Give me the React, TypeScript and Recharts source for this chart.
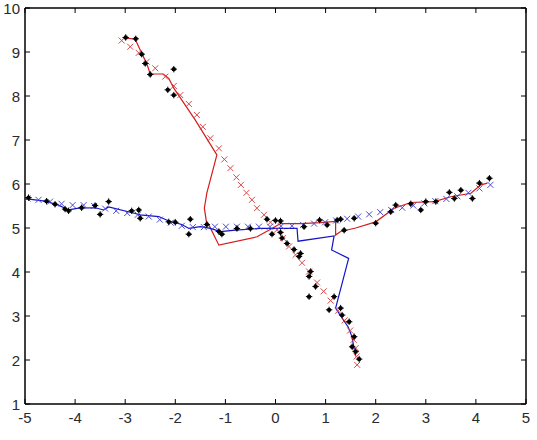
import { ScatterChart, Scatter, XAxis, YAxis } from "recharts";

const X_TICKS = [-5, -4, -3, -2, -1, 0, 1, 2, 3, 4, 5];
const Y_TICKS = [1, 2, 3, 4, 5, 6, 7, 8, 9, 10];

// black measurement points
const measurements = [
  { x: -2.99, y: 9.33 }, { x: -2.79, y: 9.3 }, { x: -2.67, y: 8.95 }, { x: -2.6, y: 8.74 },
  { x: -2.5, y: 8.49 }, { x: -2.03, y: 8.61 }, { x: -2.15, y: 8.14 }, { x: -2.03, y: 8.02 },
  { x: -4.93, y: 5.69 }, { x: -4.57, y: 5.61 }, { x: -4.4, y: 5.54 }, { x: -4.2, y: 5.43 },
  { x: -4.13, y: 5.39 }, { x: -3.87, y: 5.46 }, { x: -3.6, y: 5.51 }, { x: -3.5, y: 5.31 },
  { x: -3.33, y: 5.6 }, { x: -2.87, y: 5.39 }, { x: -2.73, y: 5.41 }, { x: -2.7, y: 5.22 },
  { x: -2.13, y: 5.14 }, { x: -2.0, y: 5.13 }, { x: -1.7, y: 5.2 }, { x: -1.73, y: 4.86 },
  { x: -1.37, y: 5.08 }, { x: -1.13, y: 4.92 }, { x: -1.07, y: 4.86 }, { x: -0.77, y: 4.99 },
  { x: -0.5, y: 4.99 }, { x: -0.17, y: 5.2 }, { x: 0.0, y: 5.17 }, { x: 0.1, y: 5.16 },
  { x: -0.07, y: 4.86 }, { x: 0.1, y: 4.9 }, { x: 0.13, y: 4.77 }, { x: 0.23, y: 4.65 },
  { x: 0.57, y: 5.03 }, { x: 0.88, y: 5.18 }, { x: 1.03, y: 5.07 }, { x: 1.23, y: 5.18 },
  { x: 1.37, y: 4.95 }, { x: 1.3, y: 5.2 }, { x: 1.57, y: 5.22 }, { x: 2.0, y: 5.11 },
  { x: 2.3, y: 5.37 }, { x: 2.4, y: 5.52 }, { x: 2.7, y: 5.55 }, { x: 2.9, y: 5.41 },
  { x: 3.0, y: 5.6 }, { x: 3.2, y: 5.6 }, { x: 3.47, y: 5.81 }, { x: 3.57, y: 5.67 },
  { x: 3.7, y: 5.86 }, { x: 3.93, y: 5.67 }, { x: 4.07, y: 6.02 }, { x: 4.27, y: 6.13 },
  { x: 0.37, y: 4.51 }, { x: 0.5, y: 4.42 }, { x: 0.47, y: 4.35 }, { x: 0.7, y: 4.01 },
  { x: 0.67, y: 3.9 }, { x: 0.8, y: 3.67 }, { x: 0.67, y: 3.44 }, { x: 1.17, y: 3.44 },
  { x: 1.07, y: 3.14 }, { x: 1.3, y: 3.18 }, { x: 1.33, y: 3.02 }, { x: 1.47, y: 2.87 },
  { x: 1.57, y: 2.53 }, { x: 1.53, y: 2.3 }, { x: 1.6, y: 2.19 }, { x: 1.67, y: 2.02 },
];

// red x markers (target 1 path)
const truthRed = [
  { x: -3.07, y: 9.26 }, { x: -2.9, y: 9.12 }, { x: -2.73, y: 8.98 }, { x: -2.57, y: 8.78 },
  { x: -2.4, y: 8.63 }, { x: -2.2, y: 8.44 }, { x: -2.03, y: 8.23 }, { x: -1.9, y: 8.02 },
  { x: -1.73, y: 7.82 }, { x: -1.57, y: 7.57 }, { x: -1.45, y: 7.3 }, { x: -1.3, y: 7.04 },
  { x: -1.13, y: 6.81 }, { x: -1.02, y: 6.56 }, { x: -0.9, y: 6.36 }, { x: -0.78, y: 6.15 },
  { x: -0.69, y: 5.98 }, { x: -0.58, y: 5.8 }, { x: -0.47, y: 5.64 }, { x: -0.37, y: 5.45 },
  { x: -0.23, y: 5.3 }, { x: -0.1, y: 5.13 }, { x: 0.03, y: 4.96 }, { x: 0.15, y: 4.77 },
  { x: 0.27, y: 4.58 }, { x: 0.4, y: 4.39 }, { x: 0.53, y: 4.21 }, { x: 0.67, y: 4.01 },
  { x: 0.83, y: 3.76 }, { x: 0.96, y: 3.56 }, { x: 1.1, y: 3.35 }, { x: 1.25, y: 3.12 },
  { x: 1.38, y: 2.9 }, { x: 1.49, y: 2.67 }, { x: 1.56, y: 2.46 }, { x: 1.6, y: 2.27 },
  { x: 1.62, y: 2.08 }, { x: 1.63, y: 1.89 },
];

// blue x markers (target 2 path)
const truthBlue = [
  { x: -4.95, y: 5.67 }, { x: -4.73, y: 5.64 }, { x: -4.5, y: 5.6 }, { x: -4.27, y: 5.55 },
  { x: -4.05, y: 5.52 }, { x: -3.83, y: 5.52 }, { x: -3.62, y: 5.5 }, { x: -3.4, y: 5.44 },
  { x: -3.18, y: 5.39 }, { x: -2.96, y: 5.34 }, { x: -2.75, y: 5.3 }, { x: -2.53, y: 5.26 },
  { x: -2.31, y: 5.19 }, { x: -2.09, y: 5.12 }, { x: -1.87, y: 5.05 }, { x: -1.65, y: 5.02 },
  { x: -1.43, y: 5.02 }, { x: -1.21, y: 5.03 }, { x: -0.99, y: 5.03 }, { x: -0.77, y: 5.03 },
  { x: -0.55, y: 5.03 }, { x: -0.33, y: 5.03 }, { x: -0.11, y: 5.03 }, { x: 0.11, y: 5.04 },
  { x: 0.33, y: 5.05 }, { x: 0.55, y: 5.07 }, { x: 0.77, y: 5.1 }, { x: 0.99, y: 5.13 },
  { x: 1.21, y: 5.17 }, { x: 1.43, y: 5.21 }, { x: 1.65, y: 5.26 }, { x: 1.87, y: 5.31 },
  { x: 2.09, y: 5.36 }, { x: 2.31, y: 5.41 }, { x: 2.53, y: 5.46 }, { x: 2.75, y: 5.51 },
  { x: 2.97, y: 5.56 }, { x: 3.19, y: 5.61 }, { x: 3.41, y: 5.66 }, { x: 3.63, y: 5.72 },
  { x: 3.85, y: 5.8 }, { x: 4.07, y: 5.9 }, { x: 4.29, y: 5.98 },
];

// red estimate line
const estRed = [
  { x: -3.0, y: 9.32 }, { x: -2.8, y: 9.29 }, { x: -2.67, y: 8.97 }, { x: -2.57, y: 8.74 },
  { x: -2.5, y: 8.5 }, { x: -2.24, y: 8.5 }, { x: -2.13, y: 8.4 }, { x: -2.03, y: 8.18 },
  { x: -1.6, y: 7.45 }, { x: -1.17, y: 6.66 }, { x: -1.3, y: 6.1 }, { x: -1.37, y: 5.8 },
  { x: -1.42, y: 5.45 }, { x: -1.38, y: 5.15 }, { x: -1.33, y: 5.07 }, { x: -1.13, y: 4.61 },
  { x: -0.37, y: 4.8 }, { x: -0.07, y: 4.99 }, { x: 0.1, y: 5.1 }, { x: 0.5, y: 5.1 },
  { x: 0.9, y: 5.12 }, { x: 1.2, y: 5.15 }, { x: 1.2, y: 4.84 }, { x: 1.3, y: 4.92 },
  { x: 1.6, y: 5.0 }, { x: 2.0, y: 5.14 }, { x: 2.37, y: 5.45 }, { x: 2.7, y: 5.58 },
  { x: 3.17, y: 5.6 }, { x: 3.5, y: 5.71 }, { x: 3.9, y: 5.79 }, { x: 4.1, y: 5.98 },
  { x: 4.23, y: 6.02 },
];

// blue estimate line
const estBlue = [
  { x: -5.0, y: 5.67 }, { x: -4.6, y: 5.61 }, { x: -4.33, y: 5.52 }, { x: -4.13, y: 5.41 },
  { x: -3.93, y: 5.45 }, { x: -3.6, y: 5.46 }, { x: -3.43, y: 5.41 }, { x: -3.33, y: 5.48 },
  { x: -2.8, y: 5.33 }, { x: -2.7, y: 5.3 }, { x: -2.33, y: 5.26 }, { x: -2.13, y: 5.16 },
  { x: -1.87, y: 5.08 }, { x: -1.73, y: 4.99 }, { x: -1.5, y: 5.03 }, { x: -1.3, y: 4.99 },
  { x: -1.1, y: 4.92 }, { x: -0.8, y: 4.95 }, { x: -0.3, y: 4.99 }, { x: 0.1, y: 4.99 },
  { x: 0.43, y: 4.99 }, { x: 0.45, y: 4.7 }, { x: 1.17, y: 4.82 }, { x: 1.12, y: 4.5 },
  { x: 1.46, y: 4.31 }, { x: 1.2, y: 3.18 }, { x: 1.3, y: 3.0 }, { x: 1.45, y: 2.75 },
  { x: 1.52, y: 2.55 }, { x: 1.57, y: 2.27 }, { x: 1.6, y: 2.08 },
];

const FONT = '"Liberation Sans", Arial, sans-serif';
const TICK_LEN = 5;
const AXIS = { stroke: "#000", strokeWidth: 1.5 };

function BottomTick({ x, y, payload }: any) {
  return (
    <g>
      <line x1={x} y1={y} x2={x} y2={y - TICK_LEN} stroke="#000" />
      <text x={x} y={y + 13} textAnchor="middle" dominantBaseline="central" fontSize={15} fontFamily={FONT} fill="#2a2a2a">
        {payload.value}
      </text>
    </g>
  );
}

function TopTick({ x, y }: any) {
  return <line x1={x} y1={y} x2={x} y2={y + TICK_LEN} stroke="#000" />;
}

function LeftTick({ x, y, payload }: any) {
  return (
    <g>
      <line x1={x} y1={y} x2={x + TICK_LEN} y2={y} stroke="#000" />
      <text x={x - 5} y={y} textAnchor="end" dominantBaseline="central" fontSize={15} fontFamily={FONT} fill="#2a2a2a">
        {payload.value}
      </text>
    </g>
  );
}

function RightTick({ x, y }: any) {
  return <line x1={x} y1={y} x2={x - TICK_LEN} y2={y} stroke="#000" />;
}

const xMark = (color: string) => (props: any) => {
  const { cx, cy } = props;
  const s = 3;
  return (
    <g stroke={color} strokeWidth={1}>
      <line x1={cx - s} y1={cy - s} x2={cx + s} y2={cy + s} />
      <line x1={cx - s} y1={cy + s} x2={cx + s} y2={cy - s} />
    </g>
  );
};

function DotMark(props: any) {
  const { cx, cy } = props;
  return (
    <g>
      <circle cx={cx} cy={cy} r={2.2} fill="#000" />
      <line x1={cx - 3.2} y1={cy} x2={cx + 3.2} y2={cy} stroke="#000" strokeWidth={1} />
      <line x1={cx} y1={cy - 3.2} x2={cx} y2={cy + 3.2} stroke="#000" strokeWidth={1} />
    </g>
  );
}

const NoMark = () => <g />;

export default function App() {
  return (
    <div style={{ position: "absolute", left: 0, top: 0, background: "#fff" }}>
      <ScatterChart width={537} height={440} margin={{ top: 0, right: 0, bottom: 0, left: 0 }}>
        <XAxis
          dataKey="x"
          type="number"
          domain={[-5, 5]}
          ticks={X_TICKS}
          allowDataOverflow
          height={36}
          tickSize={0}
          tickMargin={0}
          tickLine={false}
          axisLine={AXIS}
          tick={<BottomTick />}
          interval={0}
        />
        <XAxis
          xAxisId="top"
          orientation="top"
          dataKey="x"
          type="number"
          domain={[-5, 5]}
          ticks={X_TICKS}
          allowDataOverflow
          height={8}
          tickSize={0}
          tickMargin={0}
          tickLine={false}
          axisLine={AXIS}
          tick={<TopTick />}
          interval={0}
        />
        <YAxis
          dataKey="y"
          type="number"
          domain={[1, 10]}
          ticks={Y_TICKS}
          allowDataOverflow
          width={25}
          tickSize={0}
          tickMargin={0}
          tickLine={false}
          axisLine={AXIS}
          tick={<LeftTick />}
          interval={0}
        />
        <YAxis
          yAxisId="right"
          orientation="right"
          dataKey="y"
          type="number"
          domain={[1, 10]}
          ticks={Y_TICKS}
          allowDataOverflow
          width={11}
          tickSize={0}
          tickMargin={0}
          tickLine={false}
          axisLine={AXIS}
          tick={<RightTick />}
          interval={0}
        />
        <Scatter data={estRed} fill="none" line={{ stroke: "#d41c1c", strokeWidth: 1.2 }} shape={NoMark} isAnimationActive={false} />
        <Scatter data={estBlue} fill="none" line={{ stroke: "#1414c4", strokeWidth: 1.2 }} shape={NoMark} isAnimationActive={false} />
        <Scatter data={truthRed} fill="none" shape={xMark("#d94848")} isAnimationActive={false} />
        <Scatter data={truthBlue} fill="none" shape={xMark("#4a4ad4")} isAnimationActive={false} />
        <Scatter data={measurements} fill="#000" shape={DotMark} isAnimationActive={false} />
      </ScatterChart>
    </div>
  );
}
